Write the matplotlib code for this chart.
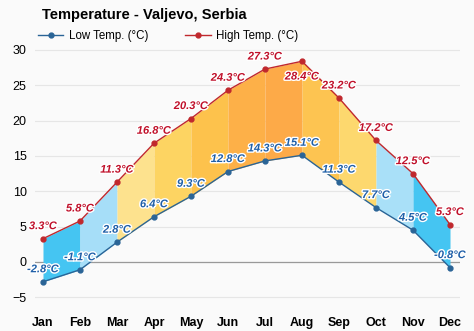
import matplotlib.pyplot as plt
import matplotlib.patheffects as pe

months = ["Jan", "Feb", "Mar", "Apr", "May", "Jun", "Jul", "Aug", "Sep", "Oct", "Nov", "Dec"]
low = [-2.8, -1.1, 2.8, 6.4, 9.3, 12.8, 14.3, 15.1, 11.3, 7.7, 4.5, -0.8]
high = [3.3, 5.8, 11.3, 16.8, 20.3, 24.3, 27.3, 28.4, 23.2, 17.2, 12.5, 5.3]
seg_colors = ["#45c5f2", "#a6def8", "#fde28e", "#fdd462", "#fdc24c", "#fdb048",
              "#fdaa48", "#fdc451", "#fdd86e", "#a9e0f8", "#45c5f2"]

plt.rcParams['font.family'] = ['Liberation Sans', 'DejaVu Sans']

fig = plt.figure(figsize=(4.74, 3.31), dpi=100)
fig.patch.set_facecolor("#fafafa")
ax = fig.add_axes([35/474, 0.0804, 425/474, 0.864 - 0.0804])
ax.set_facecolor("#fafafa")

x = list(range(12))
for i in range(11):
    ax.fill_between([i, i + 1], [low[i], low[i + 1]], [high[i], high[i + 1]],
                    color=seg_colors[i], lw=0, zorder=2)

for yv in range(-5, 31, 5):
    ax.axhline(yv, color="#e6e6e6", lw=0.8, zorder=0)
ax.axhline(0, color="#999999", lw=0.9, zorder=1)

ax.plot(x, low, color="#2a6496", lw=1, marker="o", ms=3.5, zorder=3, label="Low Temp. (°C)")
ax.plot(x, high, color="#c0282d", lw=1, marker="o", ms=3.5, zorder=3, label="High Temp. (°C)")

outline = [pe.withStroke(linewidth=2, foreground="white")]
for i in range(12):
    dy = -11 if i == 7 else 9
    ax.annotate(f"{high[i]}°C", (i, high[i]), xytext=(0, dy), textcoords="offset points",
                ha="center", va="center", fontsize=8, fontweight="bold", style="italic",
                color="#c0102a", path_effects=outline, zorder=4)
    ax.annotate(f"{low[i]}°C", (i, low[i]), xytext=(0, 9), textcoords="offset points",
                ha="center", va="center", fontsize=8, fontweight="bold", style="italic",
                color="#1f5fa8", path_effects=outline, zorder=4)

ax.set_xlim(-0.216, 11.27)
ax.set_ylim(-6, 30.7)
ax.set_xticks(x)
ax.set_xticklabels(months, fontweight="bold", fontsize=9)
ax.set_yticks(range(-5, 31, 5))
ax.tick_params(axis="y", labelsize=9, length=0, pad=6)
ax.tick_params(axis="x", length=0, pad=9)
for s in ax.spines.values():
    s.set_visible(False)

fig.text(42/474, 1 - 15/331, "Temperature - Valjevo, Serbia", fontsize=10.5, fontweight="bold",
         ha="left", va="center")
ax.legend(loc="lower left", bbox_to_anchor=(0.0, 1.0), ncol=2, frameon=False, fontsize=8.3,
          handlelength=2.2, handletextpad=0.5, borderaxespad=0.15, columnspacing=3.2, borderpad=0.1)

fig.savefig("out.png", dpi=100, facecolor=fig.get_facecolor())
